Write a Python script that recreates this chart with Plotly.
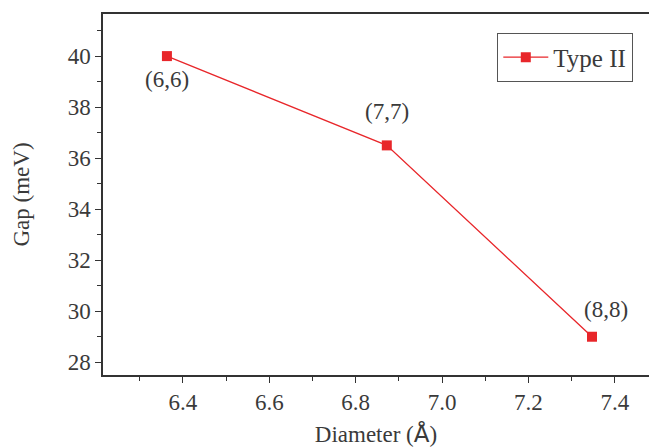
import plotly.graph_objects as go

# Band gap vs. nanotube diameter for the armchair series
diameter = [6.363, 6.872, 7.347]
gap_mev = [40.0, 36.5, 29.0]
chirality = ["(6,6)", "(7,7)", "(8,8)"]
label_pos = ["bottom center", "top center", "top right"]

y_ticks = [28, 30, 32, 34, 36, 38, 40]
x_ticks = [6.4, 6.6, 6.8, 7.0, 7.2, 7.4]

RED = "#e8262a"
INK = "#3a3a3a"
AXIS = "#333333"
FONT = "Liberation Serif"
FS = 23

fig = go.Figure()
fig.add_trace(go.Scatter(
    x=diameter, y=gap_mev,
    mode="lines+markers",
    name="Type II",
    line=dict(color=RED, width=1.3),
    marker=dict(symbol="square", size=10, color=RED),
))
# chirality annotations next to each point
for xv, yv, txt, pos in zip(diameter, gap_mev, chirality, label_pos):
    if pos == "bottom center":
        xs, ys = 0, -23
    elif pos == "top center":
        xs, ys = 0, 34
    else:
        xs, ys = 14, 27
    fig.add_annotation(x=xv, y=yv, text=txt, showarrow=False,
                       xshift=xs, yshift=ys,
                       font=dict(family=FONT, size=FS, color=INK))

axis_common = dict(
    showline=True, linecolor=AXIS, linewidth=1.5,
    ticks="outside", ticklen=6, tickwidth=1.2, tickcolor=AXIS,
    showgrid=False, zeroline=False,
    tickfont=dict(family=FONT, size=FS, color=INK),
    minor=dict(ticks="outside", ticklen=4, tickwidth=1.2, tickcolor=AXIS),
)

fig.update_xaxes(
    **axis_common,
    range=[6.215, 7.479],
    tickvals=x_ticks, ticktext=[f"{v:.1f}" for v in x_ticks],
    minor_dtick=0.1, minor_tick0=6.3,
    mirror=True,
    title=dict(text='Diameter (<span style="font-family:DejaVu Sans">Å</span>)',
               font=dict(family=FONT, size=FS, color=INK), standoff=12),
)
fig.update_yaxes(
    **axis_common,
    range=[27.5, 41.65],
    tickvals=y_ticks,
    minor_dtick=1, minor_tick0=29,
    title=dict(text="Gap (meV)", font=dict(family=FONT, size=FS, color=INK),
               standoff=32),
)

fig.update_layout(
    width=649, height=448,
    margin=dict(l=103, r=0, t=14, b=73),
    paper_bgcolor="white", plot_bgcolor="white",
    showlegend=True,
    legend=dict(x=0.7216, y=0.947, xanchor="left", yanchor="top",
                bgcolor="white", bordercolor="#555555", borderwidth=1.3,
                font=dict(family=FONT, size=25, color=INK),
                itemwidth=45),
)

fig.write_html("out.html")
